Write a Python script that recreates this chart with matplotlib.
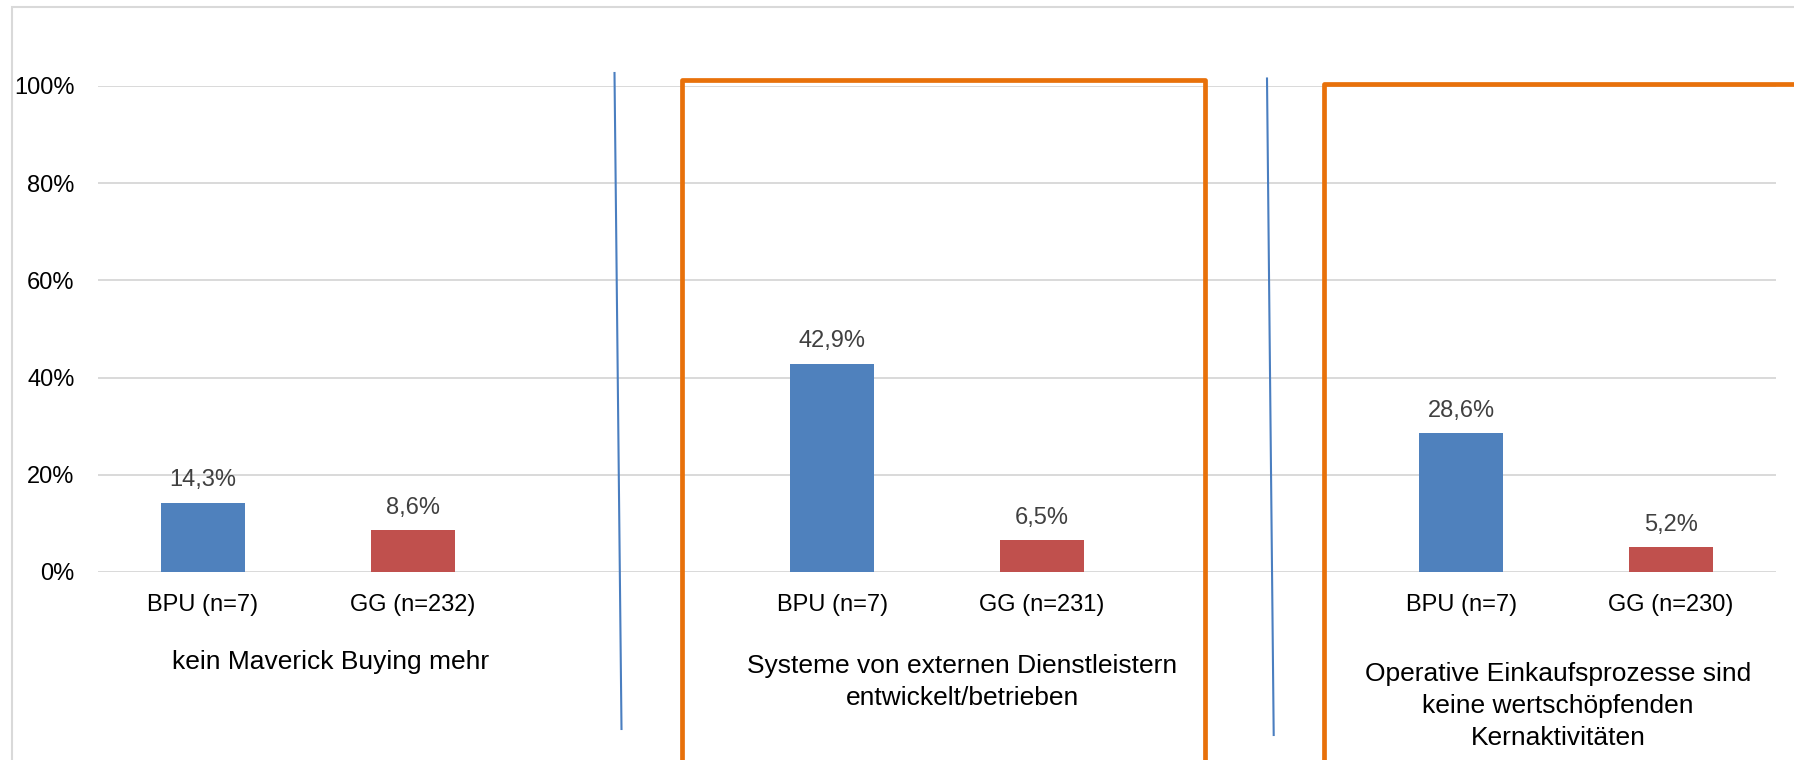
import matplotlib
matplotlib.use("Agg")
import matplotlib.pyplot as plt
import matplotlib.transforms as mtransforms
from matplotlib.lines import Line2D
from matplotlib.patches import Rectangle

# ---- data ----
groups = ["kein Maverick Buying mehr",
          "Systeme von externen Dienstleistern\nentwickelt/betrieben",
          "Operative Einkaufsprozesse sind\nkeine wertschöpfenden\nKernaktivitäten"]
bpu_labels = ["BPU (n=7)", "BPU (n=7)", "BPU (n=7)"]
gg_labels = ["GG (n=232)", "GG (n=231)", "GG (n=230)"]
bpu_values = [14.3, 42.9, 28.6]
gg_values = [8.6, 6.5, 5.2]
y_ticks = [0, 20, 40, 60, 80, 100]

W, H = 1794, 760
plt.rcParams['font.family'] = ['Liberation Sans', 'DejaVu Sans']

fig = plt.figure(figsize=(W / 100, H / 100), dpi=100)
fig.patch.set_facecolor('white')

def fx(x):
    return x / W

def fy(y):
    return 1 - y / H

# axes: left 98px, right 1776px, top (100%) 86px, bottom (0%) 572px
ax = fig.add_axes([fx(98), fy(572), fx(1776) - fx(98), fy(86) - fy(572)])
ax.set_facecolor('none')

BLUE = '#4F81BD'
RED = '#C0504D'
GRID = '#D9D9D9'

bpu_pos = [3 * i for i in range(len(groups))]
gg_pos = [3 * i + 1 for i in range(len(groups))]
width = 0.4

ax.bar(bpu_pos, bpu_values, width=width, color=BLUE, zorder=3)
ax.bar(gg_pos, gg_values, width=width, color=RED, zorder=3)

for x, v in zip(bpu_pos + gg_pos, bpu_values + gg_values):
    ax.annotate(f"{v:.1f}%".replace('.', ','), xy=(x, v), xytext=(0, 8),
                textcoords='offset points', ha='center', va='bottom',
                fontsize=17, color='#404040', zorder=4)

ax.set_xlim(-0.5, 7.5)
ax.set_ylim(0, 100)
ax.set_yticks(y_ticks)
ax.set_yticklabels([f"{t}%" for t in y_ticks], fontsize=17, color='#000000')
ax.tick_params(axis='y', length=0, pad=17)
ax.set_xticks(bpu_pos + gg_pos)
ax.set_xticklabels(bpu_labels + gg_labels, fontsize=17, color='#000000')
ax.tick_params(axis='x', length=0, pad=16)
ax.yaxis.grid(True, color=GRID, linewidth=1.4, zorder=0)
ax.set_axisbelow(True)
for s in ax.spines.values():
    s.set_visible(False)

# group titles (below tick labels)
title_offsets = [0.11, 0.12, -0.04]
title_tops = [650, 654, 662]
title_trans = mtransforms.blended_transform_factory(ax.transData, fig.transFigure)
for i, g in enumerate(groups):
    xc = (bpu_pos[i] + gg_pos[i]) / 2 + title_offsets[i]
    ax.text(xc, fy(title_tops[i]), g, transform=title_trans, ha='center', va='top',
            fontsize=19, color='#000000', linespacing=1.42, clip_on=False)

# outer light-gray frame
fig.add_artist(Rectangle((fx(12), fy(800)), fx(1900) - fx(12), fy(7) - fy(800),
                         transform=fig.transFigure, fill=False, edgecolor=GRID,
                         linewidth=1.5, zorder=0))

# blue separator lines
fig.add_artist(Line2D([fx(614.5), fx(621.5)], [fy(73), fy(729)],
                      transform=fig.transFigure, color='#4A7EC0', linewidth=1.5, zorder=5))
fig.add_artist(Line2D([fx(1267), fx(1273.7)], [fy(78.5), fy(735)],
                      transform=fig.transFigure, color='#4A7EC0', linewidth=1.5, zorder=5))

# orange highlight boxes
ORANGE = '#E8710A'
fig.add_artist(Rectangle((fx(682), fy(800)), fx(1205) - fx(682), fy(80) - fy(800),
                         transform=fig.transFigure, fill=False, edgecolor=ORANGE,
                         linewidth=3.4, zorder=6, joinstyle='round'))
fig.add_artist(Rectangle((fx(1324), fy(800)), fx(1900) - fx(1324), fy(83.5) - fy(800),
                         transform=fig.transFigure, fill=False, edgecolor=ORANGE,
                         linewidth=3.4, zorder=6, joinstyle='round'))

fig.savefig("out.png", dpi=100, facecolor='white')
